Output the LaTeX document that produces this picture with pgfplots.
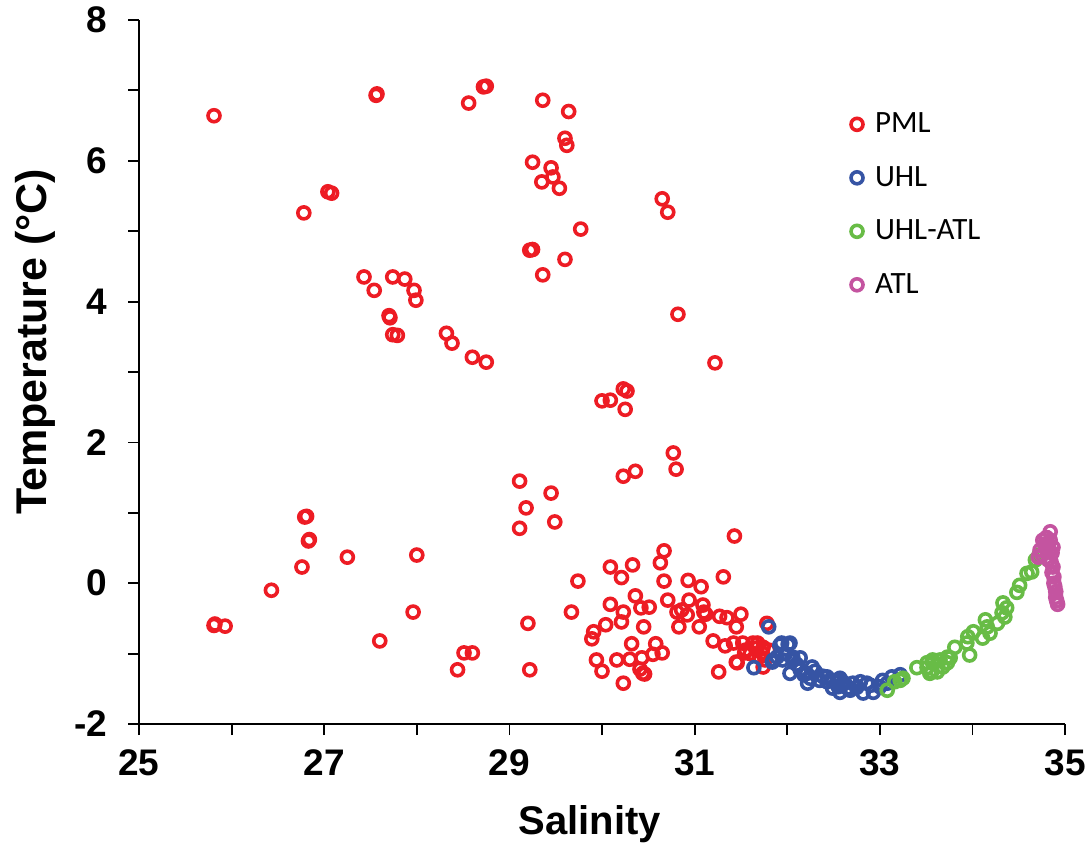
\documentclass[border=0pt]{standalone}
\usepackage{pgfplots}
\pgfplotsset{compat=1.18}
\usepackage{fontspec}
\setmainfont{Liberation Sans}
\newfontfamily\carlito{Carlito}
\definecolor{cPML}{RGB}{237,28,36}
\definecolor{cUHL}{RGB}{54,84,164}
\definecolor{cUA}{RGB}{104,188,70}
\definecolor{cATL}{RGB}{196,84,160}
\pgfplotsset{myo/.style={only marks, mark=o, mark size=3.0pt, line width=1.8pt, #1, mark options={line width=1.8pt, draw=#1}}}
\begin{document}
\begin{tikzpicture}
\begin{axis}[name=ax,
  scale only axis, width=463pt, height=352pt,
  xmin=25, xmax=35, ymin=-2, ymax=8,
  axis x line=bottom, axis y line=left,
  axis line style={-, line width=1pt, black},
  tick align=outside, major tick length=5.5pt, minor tick length=5.5pt,
  every tick/.style={black, line width=0.9pt},
  xtick={25,27,29,31,33,35}, xticklabels={25,27,29,31,33,35},
  minor xtick={26,28,30,32,34},
  ytick={-2,0,2,4,6,8}, yticklabels={-2,0,2,4,6,8},
  minor ytick={-1,1,3,5,7},
  tick label style={font=\fontsize{18.5}{18.5}\selectfont\bfseries},
  xticklabel style={yshift=-4pt},
  yticklabel style={xshift=-7pt},
  xlabel={Salinity}, ylabel={Temperature (°C)},
  xlabel style={font=\fontsize{20}{20}\selectfont\bfseries, at={(axis description cs:0.487,-0.142)}, anchor=center},
  ylabel style={font=\fontsize{21.5}{21.5}\selectfont\bfseries, at={(axis description cs:-0.112,0.543)}, anchor=center},
  legend image code/.code={\draw[mark repeat=2,mark phase=2,#1] plot coordinates {(0cm,0cm)(0.15cm,0cm)(0.3cm,0cm)};},
  legend style={draw=none, fill=none, at={(axis cs:32.62,6.80)}, anchor=north west,
    font=\carlito\fontsize{15.5}{15.5}\selectfont, row sep=11.3pt, cells={anchor=west},
    nodes={inner xsep=6pt}},
  clip=false,
]
\addplot[myo=cPML] coordinates {
(25.81,6.64) (27.56,6.93) (27.57,6.95) (28.56,6.82) (28.72,7.05) (28.75,7.06)
(29.36,6.86) (29.64,6.70) (29.60,6.32) (29.62,6.22) (29.25,5.98) (29.45,5.90)
(29.47,5.77) (29.35,5.70) (29.54,5.61) (30.65,5.46) (30.71,5.27) (29.77,5.03)
(29.22,4.73) (29.25,4.74) (29.60,4.60) (29.36,4.38) (30.82,3.82) (31.22,3.13)
(27.04,5.56) (27.08,5.54) (26.78,5.26) (27.43,4.35) (27.54,4.16) (27.74,4.35)
(27.87,4.32) (27.97,4.16) (27.99,4.02) (27.70,3.80) (27.71,3.77) (27.74,3.53)
(27.79,3.52) (28.32,3.55) (28.38,3.41) (28.60,3.21) (28.75,3.14)
(30.00,2.59) (30.09,2.60) (30.23,2.76) (30.27,2.73) (30.25,2.47) (30.77,1.85)
(30.80,1.62) (30.36,1.59) (30.23,1.52) (29.11,1.45) (29.45,1.28) (29.18,1.07)
(29.11,0.78) (29.49,0.87) (31.43,0.67) (26.79,0.94) (26.81,0.95) (26.83,0.60)
(26.84,0.62) (26.76,0.23) (27.25,0.37) (28.00,0.40) (26.43,-0.10) (25.82,-0.58)
(25.93,-0.61) (25.81,-0.60) (27.60,-0.82) (27.96,-0.41) (28.51,-0.99) (28.60,-0.99)
(28.44,-1.23) (29.20,-0.57) (29.22,-1.23) (30.67,0.46) (30.63,0.29) (30.09,0.23)
(30.33,0.26) (30.21,0.08) (30.67,0.03) (30.93,0.04) (31.07,-0.05) (31.31,0.09)
(29.74,0.03) (30.36,-0.18) (30.09,-0.30) (30.71,-0.24) (30.94,-0.24) (31.09,-0.31)
(30.51,-0.34) (30.42,-0.35) (30.23,-0.41) (29.67,-0.41) (30.21,-0.55) (30.04,-0.59)
(29.91,-0.69) (29.89,-0.79) (30.45,-0.62) (30.81,-0.41) (30.86,-0.38) (30.92,-0.45)
(31.10,-0.41) (31.12,-0.44) (31.27,-0.47) (31.35,-0.49) (31.50,-0.44) (30.83,-0.62)
(31.05,-0.62) (31.45,-0.62) (31.20,-0.82) (31.33,-0.89) (31.42,-0.85) (31.52,-0.85)
(31.63,-0.85) (30.32,-0.86) (30.58,-0.86) (30.55,-1.01) (30.65,-0.99) (29.94,-1.09)
(30.00,-1.25) (30.16,-1.09) (30.30,-1.08) (30.43,-1.06) (30.41,-1.22) (30.44,-1.28)
(30.46,-1.29) (30.23,-1.42) (31.45,-1.12) (31.26,-1.26) (31.55,-0.95) (31.78,-0.57)
(31.68,-0.85) (31.74,-0.91) (31.73,-0.99) (31.67,-0.92) (31.54,-0.99) (31.46,-1.13)
(31.76,-1.09) (31.74,-1.19) (31.60,-1.00) (31.70,-1.05) (31.80,-0.95)
};
\addlegendentry{PML}
\addplot[myo=cUHL] coordinates {
(31.80,-0.62) (31.64,-1.20) (31.92,-0.88) (32.01,-0.87) (31.85,-1.09) (32.06,-1.05)
(32.14,-1.06) (32.27,-1.19) (32.21,-1.28) (32.22,-1.42) (32.03,-1.28) (32.43,-1.33)
(32.54,-1.38) (32.49,-1.49) (31.94,-0.85) (32.03,-0.85) (31.84,-1.12) (31.89,-1.05)
(31.95,-1.09) (32.06,-1.09) (32.14,-1.23) (32.35,-1.38) (32.43,-1.40) (32.49,-1.38)
(32.57,-1.35) (32.55,-1.47) (32.65,-1.49) (32.57,-1.55) (32.71,-1.42) (32.79,-1.40)
(32.86,-1.42) (32.82,-1.56) (32.93,-1.55) (33.00,-1.47) (33.03,-1.38) (33.13,-1.33)
(33.22,-1.30) (32.10,-1.15) (32.18,-1.30) (32.30,-1.25) (32.38,-1.32) (32.62,-1.42)
(32.68,-1.52) (32.75,-1.48) (32.90,-1.45) (33.08,-1.42) (31.98,-1.00) (32.25,-1.35)
};
\addlegendentry{UHL}
\addplot[myo=cUA] coordinates {
(33.08,-1.52) (33.16,-1.40) (33.25,-1.35) (33.22,-1.38) (33.40,-1.20) (33.51,-1.20)
(33.57,-1.13) (33.65,-1.09) (33.73,-1.05) (33.54,-1.28) (33.62,-1.26) (33.51,-1.13)
(33.57,-1.09) (33.56,-1.26) (33.73,-1.13) (33.76,-1.06) (33.68,-1.19) (33.81,-0.91)
(33.95,-0.76) (34.01,-0.69) (33.97,-1.02) (33.94,-0.85) (34.14,-0.52) (34.11,-0.78)
(34.19,-0.71) (34.16,-0.62) (34.27,-0.57) (34.32,-0.42) (34.33,-0.28) (34.37,-0.35)
(34.35,-0.48) (34.48,-0.13) (34.51,-0.03) (34.59,0.14) (34.64,0.16) (34.68,0.33)
(34.72,0.40)
};
\addlegendentry{UHL-ATL}
\addplot[myo=cATL] coordinates {
(34.84,0.73) (34.76,0.61) (34.73,0.47) (34.71,0.37) (34.81,0.51) (34.86,0.43)
(34.87,0.23) (34.88,0.09) (34.89,-0.05) (34.90,-0.20) (34.92,-0.30) (34.84,0.61)
(34.82,0.33) (34.75,0.40) (34.87,0.51) (34.80,0.65) (34.78,0.55) (34.85,0.30)
(34.86,0.15) (34.88,0.00) (34.90,-0.12) (34.91,-0.25) (34.83,0.45) (34.79,0.50)
};
\addlegendentry{ATL}
\end{axis}
\pgfresetboundingbox
\path[use as bounding box] ([shift={(-69.5pt,-59.5pt)}]ax.south west) rectangle ([shift={(12.5pt,10pt)}]ax.north east);
\end{tikzpicture}
\end{document}
